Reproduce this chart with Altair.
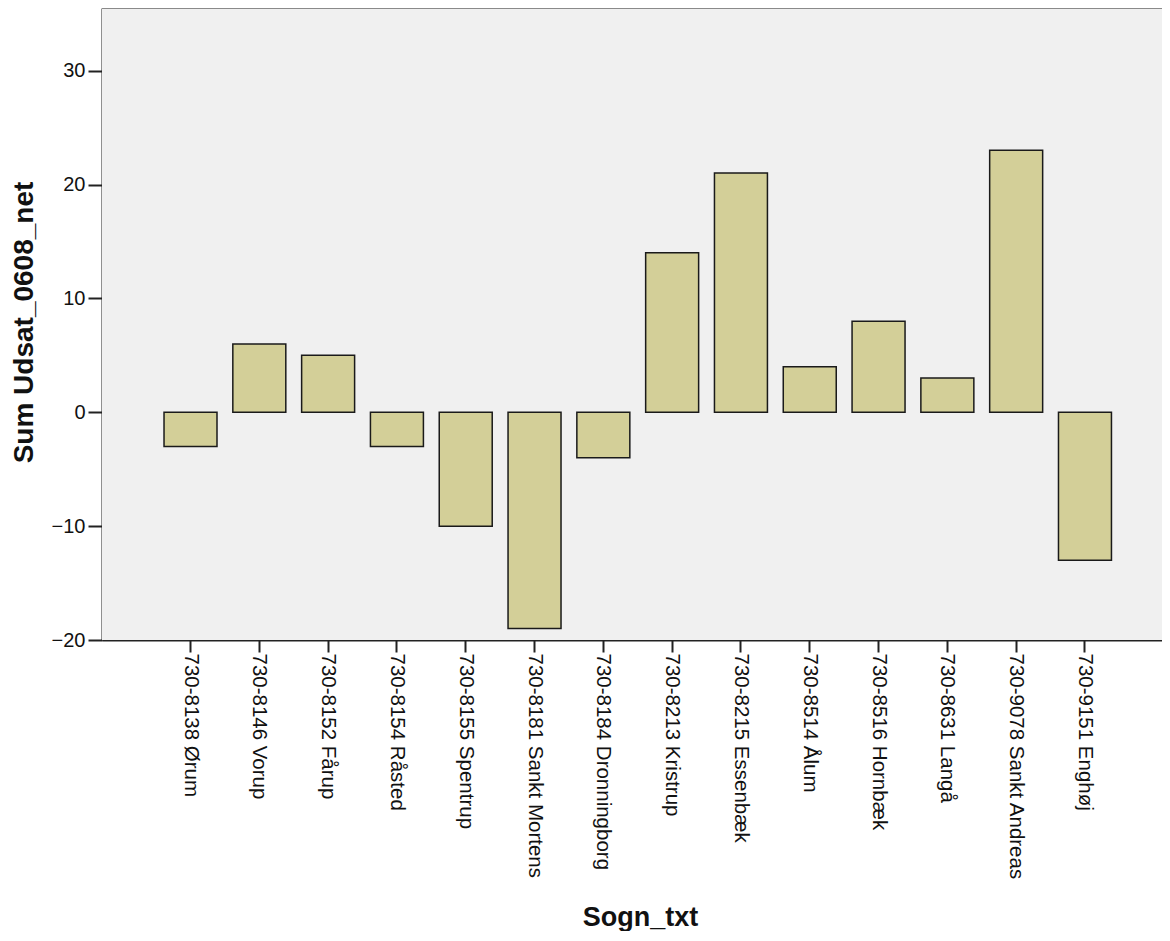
import altair as alt
import pandas as pd

categories = [
    "730-8138 Ørum", "730-8146 Vorup", "730-8152 Fårup", "730-8154 Råsted",
    "730-8155 Spentrup", "730-8181 Sankt Mortens", "730-8184 Dronningborg",
    "730-8213 Kristrup", "730-8215 Essenbæk", "730-8514 Ålum",
    "730-8516 Hornbæk", "730-8631 Langå", "730-9078 Sankt Andreas",
    "730-9151 Enghøj",
]
values = [-3, 6, 5, -3, -10, -19, -4, 14, 21, 4, 8, 3, 23, -13]
y_ticks = [-20, -10, 0, 10, 20, 30]

df = pd.DataFrame({"Sogn_txt": categories, "value": values})

W, H = 1060, 632
FONT = "Liberation Sans, Arial, sans-serif"

background = alt.Chart(df).mark_rect(color="#f0f0f0").encode(
    x=alt.value(0), x2=alt.value(W), y=alt.value(0), y2=alt.value(H)
)

bars = alt.Chart(df).mark_bar(
    color="#d3cf98", stroke="#1a1a1a", strokeWidth=1.5
).encode(
    x=alt.X(
        "Sogn_txt:N", sort=categories,
        scale=alt.Scale(paddingInner=0.23, paddingOuter=0.818, align=0.551, round=False),
        axis=alt.Axis(
            title="Sogn_txt", labelAngle=90, labelAlign="left", labelBaseline="middle",
            labelFontSize=20.5, labelFont=FONT, labelColor="#111", labelPadding=1,
            tickSize=12, tickWidth=2, tickColor="#222",
            domainColor="#222", domainWidth=2,
            titleFont=FONT, titleFontSize=27, titleFontWeight="bold", titleColor="#111",
            titleX=538, titleY=285, titleAlign="center", titleBaseline="alphabetic",
            labelLimit=400,
        ),
    ),
    y=alt.Y(
        "value:Q",
        scale=alt.Scale(domain=[-20, 35.5], nice=False, zero=False),
        axis=alt.Axis(
            title="Sum Udsat_0608_net", values=y_ticks, grid=False,
            labelFontSize=20, labelFont=FONT, labelColor="#111", labelPadding=3,
            tickSize=14, tickWidth=2, tickColor="#222",
            domainColor="#222", domainWidth=2,
            titleFont=FONT, titleFontSize=28, titleFontWeight="bold", titleColor="#111",
            titleAngle=270, titleX=-78, titleY=H / 2 - 2, titleAlign="center",
            titleBaseline="middle",
        ),
    ),
)

top_border = alt.Chart(df).mark_rule(color="#8a8a8a", strokeWidth=2).encode(
    x=alt.value(0), x2=alt.value(W), y=alt.value(0)
)

chart = alt.layer(background, top_border, bars).properties(
    width=W, height=H,
    autosize=alt.AutoSizeParams(type="none"),
    padding={"left": 94, "top": 0, "right": 0, "bottom": 291},
).configure_view(
    stroke=None
).configure(background="white")

chart.save("out.html", embed_options={"renderer": "svg", "actions": False})
